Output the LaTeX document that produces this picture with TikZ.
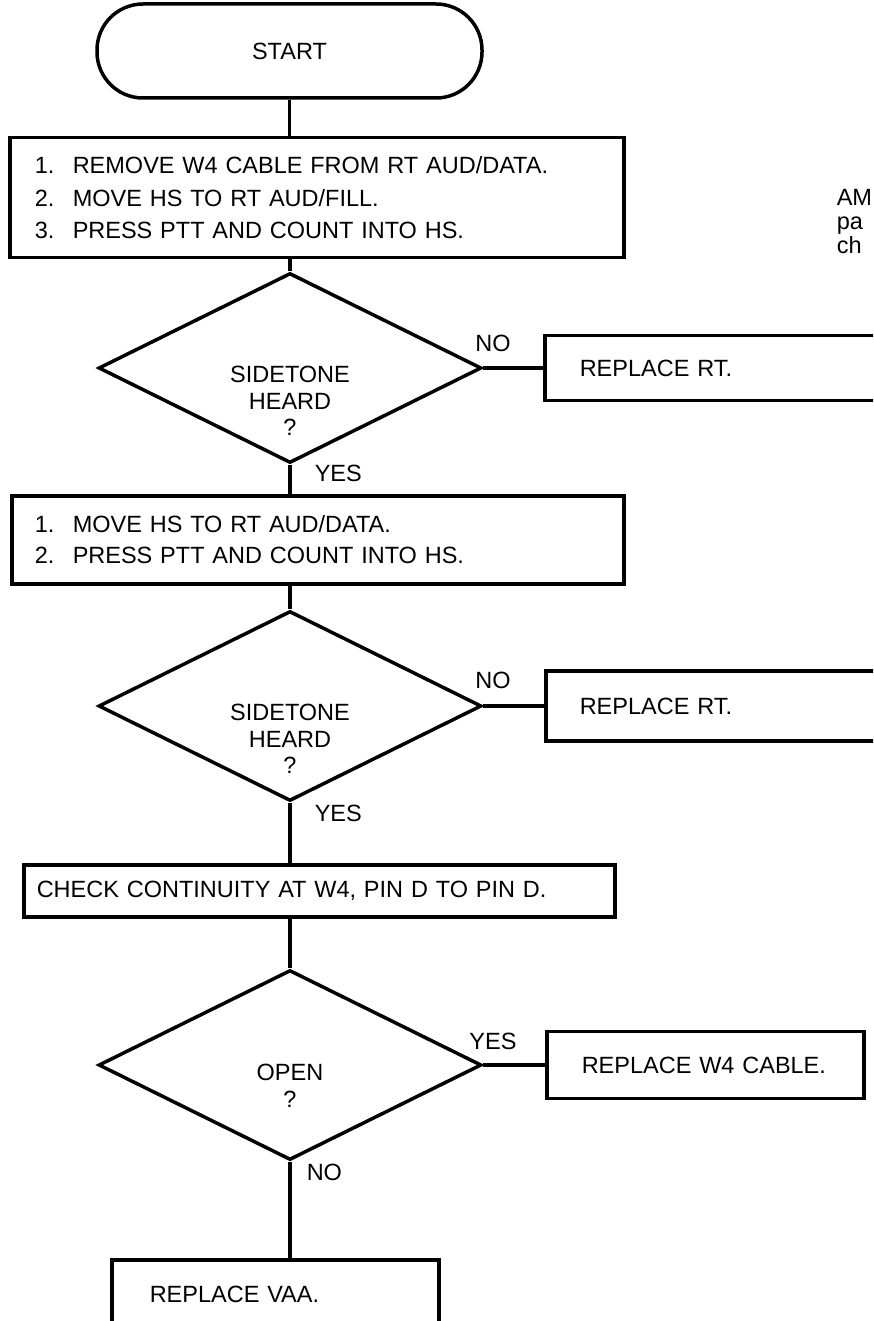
\documentclass[tikz,border=0pt]{standalone}
\usepackage{fontspec}
\setmainfont{Liberation Sans}
\usetikzlibrary{shapes.geometric}
\begin{document}
\begin{tikzpicture}[x=1pt,y=-1pt,line width=3.5pt,
  txt/.style={font=\fontsize{23.5}{32.5}\selectfont},
  procbox/.style={draw,rectangle,inner ysep=0pt,align=left},
  decision/.style={draw,diamond,inner sep=0pt,minimum width=383pt,minimum height=190pt},
  dtext/.style={font=\fontsize{23.5}{26.5}\selectfont,align=center,inner sep=0pt},
  lbl/.style={txt,inner sep=0pt},
  terminal/.style={draw,rectangle,rounded corners=46pt,minimum width=385pt,minimum height=94pt,txt}
]
\clip (0,0) rectangle (873,1321);
\fill[white] (0,0) rectangle (873,1321);

\node[terminal] (start) at (289.5,51) {START};

\node[procbox,txt,anchor=north west,minimum height=120pt,text width=564pt,inner xsep=25pt] (p1) at (8,136)
 {\makebox[38pt][l]{1.}REMOVE W4 CABLE FROM RT AUD/DATA.\\
  \makebox[38pt][l]{2.}MOVE HS TO RT AUD/FILL.\\
  \makebox[38pt][l]{3.}PRESS PTT AND COUNT INTO HS.};

\node[decision] (d1) at (290,368) {};
\node[dtext] (t1) at (290,401) {SIDETONE\\HEARD\\?};
\node[procbox,txt,anchor=west,minimum height=65pt,text width=284pt,inner xsep=35pt] (r1) at (543,368) {REPLACE RT.};
\node[lbl] (no1) at (493,343) {NO};
\node[lbl,anchor=west] (yes1) at (313,473) {YES};

\node[procbox,font=\fontsize{23.5}{31}\selectfont,anchor=north west,minimum height=88pt,text width=566pt,inner xsep=23pt] (p2) at (10,494)
 {\makebox[38pt][l]{1.}MOVE HS TO RT AUD/DATA.\\
  \makebox[38pt][l]{2.}PRESS PTT AND COUNT INTO HS.};

\node[decision] (d2) at (290,706) {};
\node[dtext] (t2) at (290,739) {SIDETONE\\HEARD\\?};
\node[procbox,txt,anchor=west,minimum height=70pt,text width=284pt,inner xsep=34pt] (r2) at (544,706) {REPLACE RT.};
\node[lbl] (no2) at (493,680) {NO};
\node[lbl,anchor=west] (yes2) at (313,813) {YES};

\node[procbox,txt,anchor=north west,minimum height=52pt,text width=565pt,inner xsep=13pt] (p3) at (22,863)
 {CHECK CONTINUITY AT W4, PIN D TO PIN D.};

\node[decision] (d3) at (290,1065) {};
\node[dtext] (t3) at (290,1086) {OPEN\\?};
\node[procbox,txt,anchor=west,minimum height=67pt,text width=247pt,inner xsep=35pt] (r3) at (545,1065) {REPLACE W4 CABLE.};
\node[lbl] (yes3) at (493,1041) {YES};
\node[lbl,anchor=west] (no3) at (305,1172) {NO};

\node[procbox,txt,anchor=north west,minimum height=70pt,text width=251pt,inner xsep=38pt] (r4) at (110,1258) {REPLACE VAA.};

\node[align=left,anchor=west,inner sep=0pt,font=\fontsize{23.5}{24}\selectfont] (note) at (835,222) {AM\\pa\\ch};

\draw (start.south) -- (start.south |- p1.north);
\draw (d1.north |- p1.south) -- (d1.north);
\draw (d1.east) -- (r1.west);
\draw (d1.south) -- (d1.south |- p2.north);
\draw (d2.north |- p2.south) -- (d2.north);
\draw (d2.east) -- (r2.west);
\draw (d2.south) -- (d2.south |- p3.north);
\draw (d3.north |- p3.south) -- (d3.north);
\draw (d3.east) -- (r3.west);
\draw (d3.south) -- (d3.south |- r4.north);
\end{tikzpicture}
\end{document}
